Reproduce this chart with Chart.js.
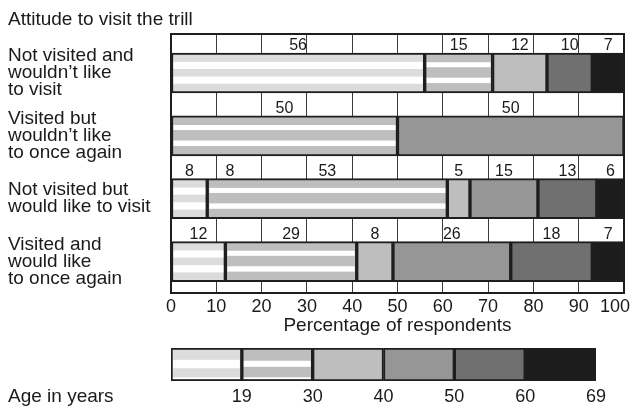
<!DOCTYPE html>
<html><head><meta charset="utf-8">
<script src="https://cdn.jsdelivr.net/npm/chart.js@4.4.1/dist/chart.umd.min.js"></script>
<style>
html,body{margin:0;padding:0;background:#fff;}
#wrap{position:relative;width:635px;height:408px;overflow:hidden;background:#fff;}
#main{position:absolute;left:0;top:0;}
#legend{position:absolute;left:0;top:340px;}
</style></head><body>
<div id="wrap"><canvas id="main" width="635" height="340"></canvas><canvas id="legend" width="635" height="68"></canvas></div>
<script>
// ---- data ----
const chartTitle = 'Attitude to visit the trill';
const attitudes = [
  ['Not visited and', 'wouldn\u2019t like', 'to visit'],
  ['Visited but', 'wouldn\u2019t like', 'to once again'],
  ['Not visited but', 'would like to visit'],
  ['Visited and', 'would like', 'to once again']
];
const ageGroups = ['under 19', '19\u201330', '30\u201340', '40\u201350', '50\u201360', '60\u201369'];
const ageUnder19 = [56, 0, 8, 12];
const age19to30  = [15, 50, 53, 29];
const age30to40  = [12, 0, 5, 8];
const age40to50  = [0, 50, 15, 26];
const age50to60  = [10, 0, 13, 18];
const age60to69  = [7, 0, 6, 7];
const strayLabels = [{row: 2, at: 13, text: '8'}];
const xTicks = [0, 10, 20, 30, 40, 50, 60, 70, 80, 90, 100];
const xTitle = 'Percentage of respondents';
const ageBoundaryLabels = ['', '19', '30', '40', '50', '60', '69'];
const ageAxisTitle = 'Age in years';
const legendSwatch = [1, 1, 1, 1, 1, 1];

// ---- styles ----
const seriesValues = [ageUnder19, age19to30, age30to40, age40to50, age50to60, age60to69];
const fills = ['#dcdcdc', '#bebebe', '#bebebe', '#969696', '#707070', '#1c1c1c'];
const stripeMain = [[[0.19, 0.39], [0.6, 0.8]], [[0.2, 0.34], [0.63, 0.78]], null, null, null, null];
const stripeLegend = [[[0.34, 0.63], [0.94, 1]], [[0.37, 0.58], [0.94, 1]], null, null, null, null];
const ink = '#1a1a1a';
const edge = '#1e1e1e';
const FONT = "'Liberation Sans', Arial, sans-serif";
Chart.defaults.font.family = FONT;
Chart.defaults.color = ink;

function stripePlugin(bands) {
  return {
    id: 'stripes',
    afterDatasetsDraw(chart) {
      const ctx = chart.ctx;
      ctx.save();
      ctx.fillStyle = '#ffffff';
      chart.data.datasets.forEach((ds, di) => {
        const b = bands[di];
        if (!b) return;
        chart.getDatasetMeta(di).data.forEach(el => {
          const p = el.getProps(['x', 'y', 'base', 'height'], true);
          const bw = ds.borderWidth;
          const l = Math.min(p.x, p.base) + bw, r = Math.max(p.x, p.base) - bw;
          if (r <= l) return;
          const t = p.y - p.height / 2 + bw, h = p.height - 2 * bw;
          b.forEach(([s, e]) => ctx.fillRect(l, t + s * h, r - l, (e - s) * h));
        });
      });
      ctx.restore();
    }
  };
}

const framePlugin = {
  id: 'frame',
  afterDatasetsDraw(chart) {
    const {left, top, right, bottom} = chart.chartArea;
    const ctx = chart.ctx;
    ctx.save();
    ctx.strokeStyle = edge;
    ctx.lineWidth = 2;
    ctx.strokeRect(left, top, right - left, bottom - top);
    ctx.restore();
  }
};

const BAR = 40;
const valueLabelPlugin = {
  id: 'valueLabels',
  afterDatasetsDraw(chart) {
    const ctx = chart.ctx;
    ctx.save();
    ctx.font = '16px ' + FONT;
    ctx.fillStyle = ink;
    ctx.textAlign = 'center';
    ctx.textBaseline = 'alphabetic';
    chart.data.datasets.forEach((ds, di) => {
      chart.getDatasetMeta(di).data.forEach((el, ri) => {
        const v = seriesValues[di][ri];
        if (!v) return;
        const p = el.getProps(['x', 'y', 'base', 'height'], true);
        ctx.fillText(String(v), (p.x + p.base) / 2, p.y - p.height / 2 - 3);
      });
    });
    const xs = chart.scales.x, ys = chart.scales.y;
    strayLabels.forEach(s => {
      const top = ys.getPixelForValue(s.row) - BAR / 2;
      ctx.fillText(s.text, xs.getPixelForValue(s.at), top - 3);
    });
    ctx.restore();
  }
};

new Chart(document.getElementById('main'), {
  type: 'bar',
  data: {
    datasets: seriesValues.map((vals, i) => ({
      label: ageGroups[i],
      data: vals.map((v, r) => ({x: v, y: r})),
      backgroundColor: fills[i],
      borderColor: edge,
      borderWidth: 2,
      borderSkipped: false,
      barThickness: BAR
    }))
  },
  options: {
    indexAxis: 'y',
    responsive: false,
    animation: false,
    devicePixelRatio: 1,
    layout: {padding: {left: 8, right: 11, top: 0, bottom: 0}},
    plugins: {
      legend: {display: false},
      tooltip: {enabled: false},
      title: {display: true, text: chartTitle, align: 'start', color: ink,
        font: {size: 19, weight: 'normal', lineHeight: 1}, padding: {top: 10, bottom: 5}}
    },
    scales: {
      x: {
        type: 'linear', stacked: true, min: 0, max: 100,
        afterBuildTicks: s => { s.ticks = xTicks.map(v => ({value: v})); },
        ticks: {font: {size: 18, lineHeight: 1}, color: ink, padding: 5, maxRotation: 0, autoSkip: false,
          callback: v => v === 100 ? '100\u2002\u2002' : String(v)},
        grid: {color: '#3a3a3a', lineWidth: 1, drawTicks: false},
        border: {display: false},
        title: {display: true, text: xTitle, color: ink, font: {size: 19, lineHeight: 1}, padding: {top: 0, bottom: 5}},
        afterFit: s => { s.height = 47; s.paddingLeft = 0; s.paddingRight = 0; }
      },
      y: {
        type: 'linear', stacked: true, reverse: true, min: -0.62, max: 3.5, offset: false,
        afterBuildTicks: s => { s.ticks = attitudes.map((_, i) => ({value: i})); },
        ticks: {crossAlign: 'far', font: {size: 19, lineHeight: 17 / 19}, color: ink, padding: 0, autoSkip: false,
          callback: v => attitudes[v]},
        grid: {display: false, drawTicks: false},
        border: {display: false},
        afterFit: s => { s.width = 163; s.paddingTop = 0; s.paddingBottom = 0; }
      }
    }
  },
  plugins: [stripePlugin(stripeMain), framePlugin, valueLabelPlugin]
});

const ageTitlePlugin = {
  id: 'ageTitle',
  afterDraw(chart) {
    const ctx = chart.ctx;
    ctx.save();
    ctx.font = '19px ' + FONT;
    ctx.fillStyle = ink;
    ctx.textAlign = 'left';
    ctx.textBaseline = 'middle';
    ctx.fillText(ageAxisTitle, 8, chart.scales.x.top + 7 + 9);
    ctx.restore();
  }
};

new Chart(document.getElementById('legend'), {
  type: 'bar',
  data: {
    labels: ['age'],
    datasets: legendSwatch.map((v, i) => ({
      label: ageGroups[i],
      data: [v],
      backgroundColor: fills[i],
      borderColor: edge,
      borderWidth: 2,
      borderSkipped: false,
      barPercentage: 1,
      categoryPercentage: 1
    }))
  },
  options: {
    indexAxis: 'y',
    responsive: false,
    animation: false,
    devicePixelRatio: 1,
    layout: {padding: {left: 171, right: 39, top: 8, bottom: 0}},
    plugins: {legend: {display: false}, tooltip: {enabled: false}},
    scales: {
      x: {
        type: 'linear', stacked: true, min: 0, max: 6,
        afterBuildTicks: s => { s.ticks = ageBoundaryLabels.map((_, i) => ({value: i})); },
        ticks: {callback: v => ageBoundaryLabels[v], font: {size: 18, lineHeight: 1}, color: ink, padding: 7, autoSkip: false, maxRotation: 0},
        grid: {display: false, drawTicks: false},
        border: {display: false},
        afterFit: s => { s.height = 27; s.paddingLeft = 0; s.paddingRight = 0; }
      },
      y: {stacked: true, display: false}
    }
  },
  plugins: [stripePlugin(stripeLegend), ageTitlePlugin]
});
</script>
</body></html>
